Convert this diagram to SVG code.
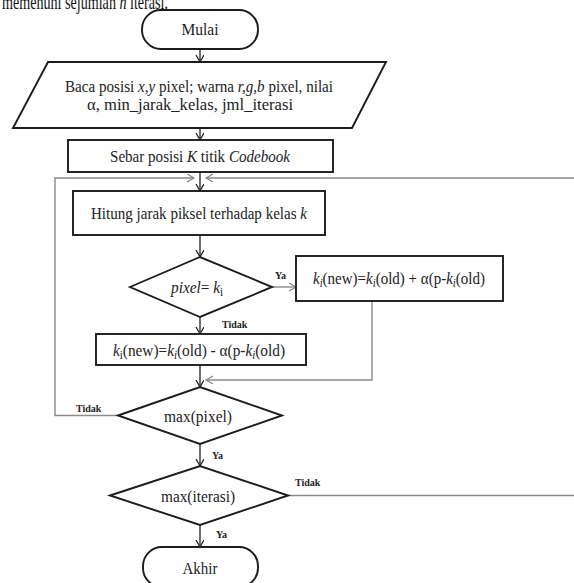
<svg xmlns="http://www.w3.org/2000/svg" width="574" height="583" viewBox="0 0 574 583">
<style>
.s{fill:#fff;stroke:#1c1c1c;stroke-width:1.9}
.t{font-family:"Liberation Serif","Times New Roman",serif;font-size:17px;fill:#222;text-anchor:middle}
.l{font-family:"Liberation Serif","Times New Roman",serif;font-size:10px;font-weight:bold;fill:#222}
.c{fill:none;stroke:#222;stroke-width:1.3}
.g{fill:none;stroke:#8a8a8a;stroke-width:1.4}
.i{font-style:italic}
</style>
<defs>
<marker id="ab" markerUnits="userSpaceOnUse" markerWidth="10" markerHeight="10" refX="7" refY="4" orient="auto"><path d="M0,0 L7,4 L0,8" fill="none" stroke="#222" stroke-width="1.3"/></marker>
<marker id="ag" markerUnits="userSpaceOnUse" markerWidth="10" markerHeight="10" refX="7" refY="4" orient="auto"><path d="M0,0 L7,4 L0,8" fill="none" stroke="#8a8a8a" stroke-width="1.3"/></marker>
</defs>
<rect width="574" height="583" fill="#fff"/>
<text x="2" y="9" textLength="166" lengthAdjust="spacingAndGlyphs" style="font-family:'Liberation Serif','Times New Roman',serif;font-size:22px;fill:#111">memenuhi sejumlah <tspan class="i">n</tspan> iterasi.</text>

<g id="connectors">
<line class="c" x1="200" y1="49" x2="200" y2="62" marker-end="url(#ab)"/>
<line class="c" x1="200" y1="128" x2="200" y2="140" marker-end="url(#ab)"/>
<line class="c" x1="200" y1="172" x2="200" y2="191" marker-end="url(#ab)"/>
<line class="c" x1="200" y1="235" x2="200" y2="257" marker-end="url(#ab)"/>
<line class="c" x1="200" y1="317" x2="200" y2="334" marker-end="url(#ab)"/>
<line class="c" x1="200" y1="365" x2="200" y2="387" marker-end="url(#ab)"/>
<line class="c" x1="200" y1="444" x2="200" y2="466" marker-end="url(#ab)"/>
<line class="c" x1="200" y1="525" x2="200" y2="547" marker-end="url(#ab)"/>
<line class="g" x1="272" y1="287" x2="296" y2="287" marker-end="url(#ag)"/>
<polyline class="g" points="372,301 372,380 206,380" marker-end="url(#ag)"/>
<polyline class="g" points="118,415.5 55,415.5 55,178 194,178" marker-end="url(#ag)"/>
<polyline class="g" points="574,178 206,178" marker-end="url(#ag)"/>
<line class="g" x1="288" y1="495.5" x2="574" y2="495.5"/>
<text class="l" x="275" y="279">Ya</text>
<text class="l" x="222" y="328">Tidak</text>
<text class="l" x="76" y="412">Tidak</text>
<text class="l" x="212" y="459">Ya</text>
<text class="l" x="295" y="486">Tidak</text>
<text class="l" x="216" y="538">Ya</text>
</g>

<g id="mulai">
<rect class="s" x="142" y="10" width="116" height="39" rx="19"/>
<text class="t" x="200" y="35" textLength="37" lengthAdjust="spacingAndGlyphs">Mulai</text>
</g>
<g id="baca">
<polygon class="s" points="48,62 386,62 352,128 13,128"/>
<text class="t" x="199" y="92" textLength="268" lengthAdjust="spacingAndGlyphs">Baca posisi <tspan class="i">x,y</tspan> pixel; warna <tspan class="i">r,g,b</tspan> pixel, nilai</text>
<text class="t" x="190" y="110" textLength="206" lengthAdjust="spacingAndGlyphs">α, min_jarak_kelas, jml_iterasi</text>
</g>
<g id="sebar">
<rect class="s" x="68" y="140" width="265" height="32"/>
<text class="t" x="200" y="162" textLength="180" lengthAdjust="spacingAndGlyphs">Sebar posisi <tspan class="i">K</tspan> titik <tspan class="i">Codebook</tspan></text>
</g>
<g id="hitung">
<rect class="s" x="73" y="191" width="252" height="44"/>
<text class="t" x="199" y="219" textLength="216" lengthAdjust="spacingAndGlyphs">Hitung jarak piksel terhadap kelas <tspan class="i">k</tspan></text>
</g>
<g id="cek">
<polygon class="s" points="130,287 200,257 272,287 200,317"/>
<text class="t" x="197" y="293" textLength="52" lengthAdjust="spacingAndGlyphs"><tspan class="i">pixel</tspan>= <tspan class="i">k</tspan><tspan font-size="12" dy="3">i</tspan></text>
</g>
<g id="plus">
<rect class="s" x="296" y="256" width="207" height="45"/>
<text class="t" x="399" y="284" textLength="172" lengthAdjust="spacingAndGlyphs"><tspan class="i">k</tspan><tspan class="i" font-size="12" dy="3">i</tspan><tspan dy="-3">(new)=</tspan><tspan class="i">k</tspan><tspan class="i" font-size="12" dy="3">i</tspan><tspan dy="-3">(old) + α(p-</tspan><tspan class="i">k</tspan><tspan class="i" font-size="12" dy="3">i</tspan><tspan dy="-3">(old)</tspan></text>
</g>
<g id="minus">
<rect class="s" x="96" y="334" width="210" height="31"/>
<text class="t" x="199" y="356" textLength="172" lengthAdjust="spacingAndGlyphs"><tspan class="i">k</tspan><tspan font-size="12" dy="3">i</tspan><tspan dy="-3">(new)=</tspan><tspan class="i">k</tspan><tspan class="i" font-size="12" dy="3">i</tspan><tspan dy="-3">(old) - α(p-</tspan><tspan class="i">k</tspan><tspan class="i" font-size="12" dy="3">i</tspan><tspan dy="-3">(old)</tspan></text>
</g>
<g id="maxpixel">
<polygon class="s" points="118,415.5 200,387 282,415.5 200,444"/>
<text class="t" x="198" y="422" textLength="68" lengthAdjust="spacingAndGlyphs">max(pixel)</text>
</g>
<g id="maxiterasi">
<polygon class="s" points="110,495.5 200,466 288,495.5 200,525"/>
<text class="t" x="198" y="502" textLength="74" lengthAdjust="spacingAndGlyphs">max(iterasi)</text>
</g>
<g id="akhir">
<rect class="s" x="143" y="547" width="115" height="40" rx="19"/>
<text class="t" x="200" y="574" textLength="35" lengthAdjust="spacingAndGlyphs">Akhir</text>
</g>
</svg>
